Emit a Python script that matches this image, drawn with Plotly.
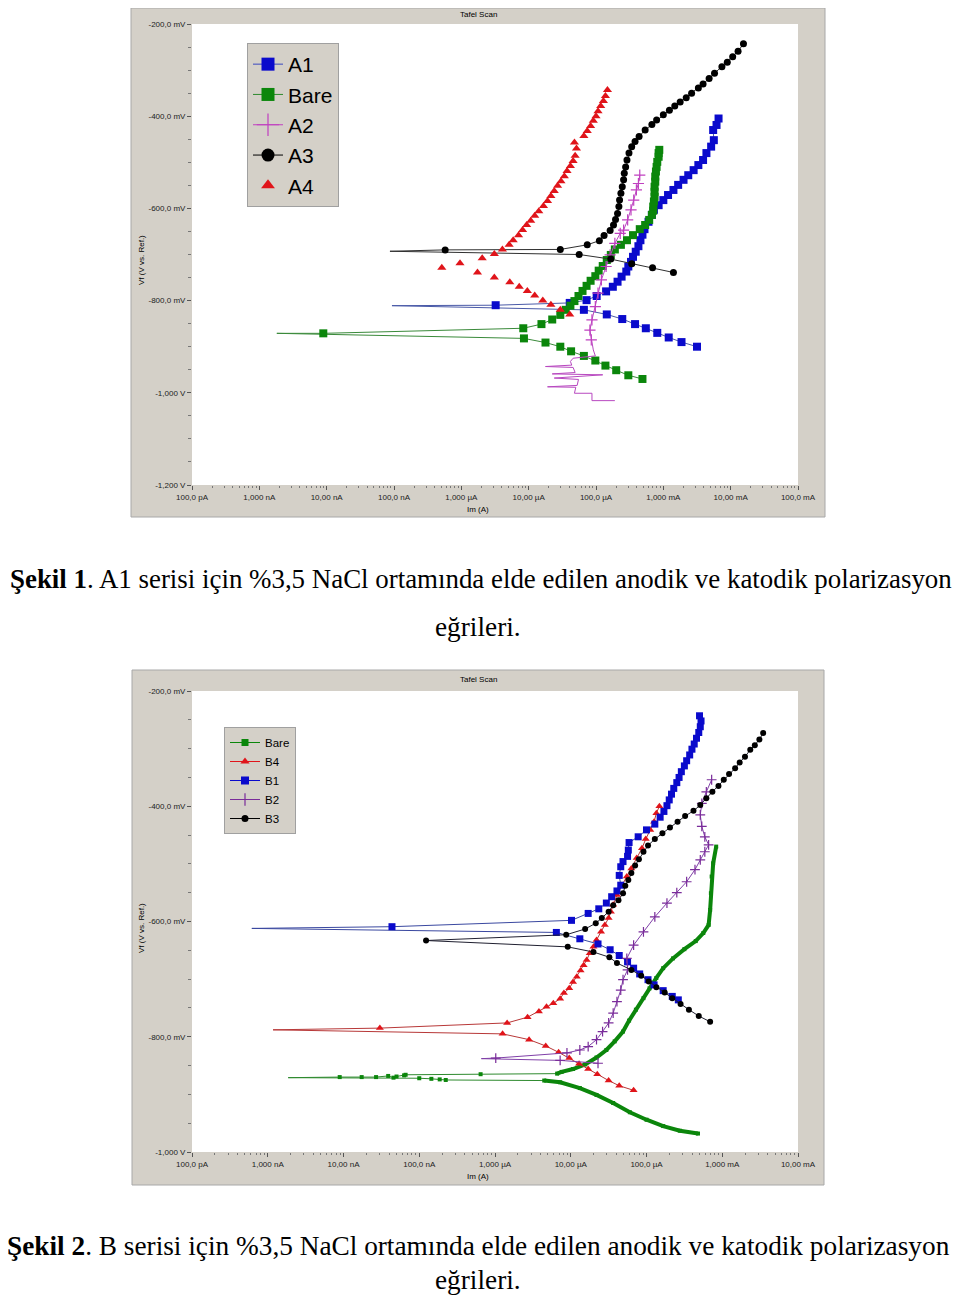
import numpy as np
import plotly.graph_objects as go

# Şekil 1 - A series. Current as log10(I / A), potential in mV, in scan order
a1_logi = [-2.50, -2.73, -2.92, -3.09, -3.26, -3.42, -3.61, -3.84, -4.18, -7.03, -5.49, -4.39,
           -4.14, -3.99, -3.85, -3.75, -3.68, -3.62, -3.55, -3.52, -3.48, -3.45, -3.41, -3.37,
           -3.34, -3.31, -3.28, -3.22, -3.17, -3.14, -3.07, -3.00, -2.93, -2.85, -2.78, -2.70,
           -2.63, -2.55, -2.48, -2.41, -2.36, -2.29, -2.25, -2.26, -2.21, -2.18]
a1_mv = [-900, -890, -880, -870, -860, -851, -840, -830, -820, -811, -810, -805,
         -799, -790, -780, -770, -759, -748, -737, -726, -716, -705, -694, -682,
         -669, -657, -645, -629, -614, -603, -593, -582, -571, -560, -549, -538,
         -528, -517, -506, -495, -480, -466, -452, -430, -419, -405]

bare_a_logi = [-3.31, -3.52, -3.70, -3.86, -4.01, -4.18, -4.37, -4.53, -4.75, -5.07, -8.74, -8.05,
               -5.08, -4.81, -4.65, -4.53, -4.45, -4.38, -4.32, -4.26, -4.20, -4.14, -4.08, -4.01,
               -3.96, -3.90, -3.84, -3.78, -3.72, -3.63, -3.54, -3.45, -3.35, -3.27, -3.21, -3.17,
               -3.15, -3.15, -3.14, -3.13, -3.13, -3.13, -3.12, -3.12, -3.11, -3.10, -3.09, -3.07,
               -3.07, -3.06]
bare_a_mv = [-970, -962, -951, -941, -930, -920, -910, -900, -891, -882, -871, -871,
             -860, -851, -841, -831, -820, -811, -801, -790, -779, -768, -757, -747,
             -735, -725, -712, -701, -689, -679, -669, -658, -645, -636, -625, -614,
             -605, -596, -585, -575, -564, -553, -542, -531, -520, -510, -499, -488,
             -480, -473]

a2_logi = [-3.72, -4.06, -4.06, -4.32, -4.30, -4.72, -4.28, -4.26, -4.62, -4.25, -3.90, -4.65,
           -4.31, -4.34, -4.75, -4.36, -4.38, -4.34, -4.19, -4.01, -4.04, -4.07, -4.09, -4.06,
           -4.01, -3.97, -3.92, -3.85, -3.79, -3.72, -3.64, -3.59, -3.53, -3.48, -3.44, -3.40,
           -3.37, -3.35]
a2_mv = [-1017, -1017, -1001, -1001, -988, -987, -984, -971, -968, -965, -961, -959,
         -956, -945, -943, -940, -932, -925, -922, -920, -907, -885, -864, -842,
         -813, -784, -755, -726, -701, -676, -654, -647, -625, -603, -582, -560,
         -546, -528]

a3_logi = [-2.85, -3.16, -3.47, -3.78, -4.25, -7.06, -6.24, -4.53, -4.13, -3.95, -3.88, -3.79,
           -3.74, -3.71, -3.68, -3.66, -3.65, -3.63, -3.61, -3.59, -3.58, -3.56, -3.54, -3.51,
           -3.47, -3.42, -3.36, -3.27, -3.17, -3.10, -3.00, -2.91, -2.83, -2.75, -2.66, -2.58,
           -2.48, -2.41, -2.32, -2.24, -2.13, -2.05, -1.97, -1.89, -1.81]
a3_mv = [-739, -729, -720, -710, -700, -693, -690, -689, -679, -670, -659, -648,
         -636, -624, -611, -596, -582, -567, -553, -538, -524, -510, -495, -480,
         -466, -455, -444, -430, -418, -408, -397, -387, -378, -369, -360, -350,
         -339, -330, -318, -307, -293, -283, -271, -259, -243]

a4_logi = [-4.39, -4.53, -4.67, -4.79, -4.91, -5.02, -5.14, -5.28, -5.51, -5.76, -6.29, -6.02,
           -5.69, -5.51, -5.39, -5.29, -5.23, -5.15, -5.09, -5.03, -4.97, -4.91, -4.85, -4.78,
           -4.72, -4.67, -4.62, -4.57, -4.52, -4.47, -4.43, -4.38, -4.34, -4.31, -4.29, -4.32,
           -4.18, -4.13, -4.08, -4.04, -4.00, -3.97, -3.93, -3.89, -3.86, -3.83]
a4_mv = [-830, -820, -809, -800, -789, -779, -770, -760, -750, -739, -729, -719,
         -708, -699, -689, -679, -669, -658, -647, -636, -627, -616, -606, -595,
         -584, -573, -562, -551, -541, -530, -519, -508, -497, -486, -470, -457,
         -443, -432, -421, -410, -400, -389, -378, -367, -356, -343]

# Şekil 2 - B series
bare_b_logi = [-3.32, -3.56, -3.78, -4.00, -4.22, -4.44, -4.66, -4.88, -5.14, -5.35, -6.65, -6.73,
               -6.84, -7.00, -8.73, -8.05, -7.76, -7.57, -7.41, -7.34, -7.30, -7.20, -7.18, -6.19,
               -5.18, -5.12, -4.97, -4.81, -4.66, -4.53, -4.42, -4.31, -4.23, -4.14, -4.04, -3.96,
               -3.87, -3.78, -3.65, -3.50, -3.35, -3.25, -3.18, -3.16, -3.15, -3.14, -3.12, -3.08]
bare_b_mv = [-968, -963, -955, -944, -931, -915, -901, -889, -879, -876, -875, -874,
             -873, -872, -871, -870, -870, -870, -868, -871, -869, -867, -866, -865,
             -864, -861, -856, -848, -836, -823, -808, -791, -772, -753, -733, -716,
             -698, -681, -664, -648, -634, -620, -606, -580, -551, -522, -499, -470]

b4_logi = [-4.17, -4.36, -4.50, -4.65, -4.77, -4.89, -5.02, -5.16, -5.33, -5.55, -5.90, -8.93,
           -7.52, -5.84, -5.57, -5.42, -5.32, -5.23, -5.14, -5.09, -5.02, -4.97, -4.92, -4.87,
           -4.83, -4.79, -4.75, -4.70, -4.66, -4.60, -4.55, -4.50, -4.47, -4.44, -4.39, -4.33,
           -4.26, -4.20, -4.13, -4.06, -4.01, -3.95, -3.90, -3.87, -3.83]
b4_mv = [-893, -885, -876, -865, -856, -847, -837, -827, -816, -805, -795, -788,
         -785, -776, -766, -756, -748, -742, -734, -724, -716, -705, -696, -685,
         -676, -667, -655, -644, -632, -618, -606, -594, -583, -571, -554, -539,
         -522, -508, -490, -473, -457, -441, -427, -412, -400]

b1_logi = [-3.58, -3.66, -3.78, -3.90, -3.98, -4.09, -4.17, -4.25, -4.36, -4.48, -4.64, -4.88,
           -5.19, -9.21, -7.36, -4.99, -4.77, -4.63, -4.53, -4.46, -4.39, -4.34, -4.36, -4.34,
           -4.31, -4.25, -4.24, -4.23, -4.11, -4.00, -3.89, -3.82, -3.77, -3.73, -3.70, -3.67,
           -3.64, -3.60, -3.57, -3.54, -3.50, -3.47, -3.43, -3.40, -3.37, -3.34, -3.31, -3.29,
           -3.28, -3.30]
b1_mv = [-736, -730, -720, -710, -701, -691, -681, -670, -659, -649, -639, -630,
         -619, -612, -609, -598, -586, -578, -568, -557, -547, -537, -520, -505,
         -496, -487, -476, -463, -453, -441, -431, -419, -409, -399, -389, -379,
         -369, -359, -350, -340, -330, -321, -311, -301, -292, -282, -272, -262,
         -252, -243]

b2_logi = [-4.64, -5.14, -6.18, -5.99, -5.05, -4.88, -4.77, -4.66, -4.58, -4.50, -4.44, -4.39,
           -4.34, -4.31, -4.25, -4.26, -4.17, -4.04, -3.89, -3.73, -3.60, -3.47, -3.36, -3.29,
           -3.23, -3.18, -3.23, -3.27, -3.29, -3.27, -3.21, -3.14]
b2_mv = [-846, -841, -838, -837, -828, -823, -817, -805, -791, -776, -759, -739,
         -719, -701, -684, -664, -641, -618, -592, -568, -550, -531, -510, -493,
         -479, -467, -453, -435, -415, -395, -375, -354]

b3_logi = [-3.16, -3.31, -3.44, -3.55, -3.66, -3.76, -3.87, -3.97, -4.07, -4.20, -4.39, -4.49,
           -4.70, -5.04, -6.91, -5.06, -4.81, -4.67, -4.59, -4.50, -4.44, -4.37, -4.31, -4.28,
           -4.24, -4.20, -4.15, -4.10, -4.04, -3.98, -3.89, -3.79, -3.69, -3.59, -3.49, -3.38,
           -3.29, -3.21, -3.13, -3.05, -2.98, -2.91, -2.83, -2.77, -2.70, -2.63, -2.57, -2.51,
           -2.46]
b3_mv = [-774, -764, -753, -743, -733, -723, -714, -704, -694, -684, -672, -662,
         -653, -644, -633, -623, -613, -603, -594, -583, -572, -563, -551, -538,
         -528, -516, -503, -492, -479, -468, -457, -447, -437, -427, -417, -408,
         -398, -386, -375, -365, -354, -344, -334, -324, -314, -302, -294, -284,
         -273]

top_xticks = [1e-10, 1e-9, 1e-8, 1e-7, 1e-6, 1e-5, 1e-4, 1e-3, 1e-2, 1e-1]
top_xlabels = ["100,0 pA", "1,000 nA", "10,00 nA", "100,0 nA", "1,000 µA", "10,00 µA",
               "100,0 µA", "1,000 mA", "10,00 mA", "100,0 mA"]
top_yticks = [-200, -400, -600, -800, -1000, -1200]
top_ylabels = ["-200,0 mV", "-400,0 mV", "-600,0 mV", "-800,0 mV", "-1,000 V", "-1,200 V"]
bot_xticks = top_xticks[:9]
bot_xlabels = top_xlabels[:9]
bot_yticks = [-200, -400, -600, -800, -1000]
bot_ylabels = ["-200,0 mV", "-400,0 mV", "-600,0 mV", "-800,0 mV", "-1,000 V"]

BLUE, GREEN, RED, BLACK = "#0a0acc", "#0b860b", "#e0141a", "#000000"
PINK, PURPLE = "#c040c0", "#7a2c9a"

# the page body keeps an 8 px margin, so the figure is 944 x 1292 and page pixels shift by 8
OFF, W, H = 8, 944.0, 1292.0


def fx(px):
    return (px - OFF) / W


def fy(py):
    return 1 - (py - OFF) / H


fig = go.Figure()


def axes(sub):
    return dict(xaxis="x" if sub == 1 else "x2", yaxis="y" if sub == 1 else "y2")


def marker(color, symbol, size):
    return dict(color=color, symbol=symbol, size=size,
                line=dict(color=color, width=1.2 if "cross" in symbol else 0))


def add_curve(logi, mv, sub, color, symbol, size, line_color=None, no_marks=None, width=1.0):
    x = np.power(10.0, np.array(logi))
    y = np.array(mv, dtype=float)
    if line_color:
        fig.add_trace(go.Scatter(x=x, y=y, mode="lines", showlegend=False,
                                 line=dict(color=line_color, width=width), **axes(sub)))
    if no_marks is None:
        no_marks = [int(np.argmin(logi))]  # the spike tip carries no symbol
    keep = np.setdiff1d(np.arange(len(x)), no_marks)
    fig.add_trace(go.Scatter(x=x[keep], y=y[keep], mode="markers", showlegend=False,
                             marker=marker(color, symbol, size), **axes(sub)))


def add_key(name, sub, color, symbol, size, line_color=None):
    fig.add_trace(go.Scatter(x=[None], y=[None], name=name,
                             mode="lines+markers" if line_color else "markers",
                             line=dict(color=line_color or color, width=1),
                             marker=marker(color, symbol, size),
                             legend="legend" if sub == 1 else "legend2", **axes(sub)))


add_curve(a1_logi, a1_mv, 1, BLUE, "square", 8, "#4a5aa8")
add_curve(bare_a_logi, bare_a_mv, 1, GREEN, "square", 8, "#3a8a3a")
add_curve(a2_logi, a2_mv, 1, PINK, "cross-thin", 8, "#b848c0", no_marks=list(range(21)))
add_curve(a3_logi, a3_mv, 1, BLACK, "circle", 7, "#303030")
add_curve(a4_logi, a4_mv, 1, RED, "triangle-up", 8, None, no_marks=[])

add_curve(bare_b_logi, bare_b_mv, 2, GREEN, "square", 4, "#2e8a2e")
for sl in (slice(0, 10), slice(24, None)):  # thick branches of the bare curve
    fig.add_trace(go.Scatter(x=np.power(10.0, np.array(bare_b_logi[sl])), y=bare_b_mv[sl],
                             mode="lines", showlegend=False, line=dict(color=GREEN, width=4),
                             **axes(2)))
add_curve(b4_logi, b4_mv, 2, RED, "triangle-up", 7, "#b83838")
add_curve(b1_logi, b1_mv, 2, BLUE, "square", 7, "#3a48a0")
add_curve(b2_logi, b2_mv, 2, PURPLE, "cross-thin", 7, "#8040a8")
add_curve(b3_logi, b3_mv, 2, BLACK, "circle", 6, "#202030", no_marks=[])

add_key("A1", 1, BLUE, "square", 13, "#3a48c0")
add_key("Bare", 1, GREEN, "square", 13, "#2e8a2e")
add_key("A2", 1, PINK, "cross-thin", 16, PINK)
add_key("A3", 1, BLACK, "circle", 13, BLACK)
add_key("A4", 1, RED, "triangle-up", 12)
add_key("Bare", 2, GREEN, "square", 7, GREEN)
add_key("B4", 2, RED, "triangle-up", 8, RED)
add_key("B1", 2, BLUE, "square", 8, BLUE)
add_key("B2", 2, PURPLE, "cross-thin", 9, PURPLE)
add_key("B3", 2, BLACK, "circle", 7, BLACK)

tick_font = dict(family="Liberation Sans", size=8, color="#222222")


def xaxis(vals, labels, rng, anchor):
    return dict(domain=[fx(192), fx(798)], anchor=anchor, type="log", range=rng,
                tickmode="array", tickvals=vals, ticktext=labels, ticks="outside",
                ticklen=4, tickcolor="#555555", tickfont=tick_font, showgrid=False,
                zeroline=False, showline=False, automargin=False,
                minor=dict(ticks="outside", ticklen=2, tickcolor="#777777", dtick="D1",
                           showgrid=False))


def yaxis(vals, labels, rng, top, bottom, anchor):
    return dict(domain=[fy(bottom), fy(top)], anchor=anchor, range=rng, tickmode="array",
                tickvals=vals, ticktext=labels, ticks="outside", ticklen=4,
                tickcolor="#555555", tickfont=tick_font, showgrid=False, zeroline=False,
                showline=False, automargin=False,
                minor=dict(ticks="outside", ticklen=3, tickcolor="#777777", dtick=50,
                           showgrid=False))


def rect(x0, y0, x1, y1):
    return dict(type="rect", xref="paper", yref="paper", layer="below",
                x0=fx(x0), x1=fx(x1), y0=fy(y1), y1=min(fy(y0), 1),
                fillcolor="#d4d0c8", line=dict(color="#a8a8a8", width=1))


def white(xr, yr):
    return dict(type="rect", xref=xr + " domain", yref=yr + " domain", layer="below",
                x0=0, x1=1, y0=0, y1=1, fillcolor="white", line=dict(width=0))


def note(text, px, py, size=8, family="Liberation Sans", angle=0):
    return dict(text=text, x=fx(px), y=fy(py), xref="paper", yref="paper",
                showarrow=False, textangle=angle, xanchor="center", yanchor="middle",
                font=dict(family=family, size=size, color="black"))


cap = dict(family="Liberation Serif")
annotations = [
    note("Tafel Scan", 478, 14), note("Im (A)", 478, 509),
    note("Vf (V vs. Ref.)", 141, 260, angle=-90),
    note("Tafel Scan", 478, 679), note("Im (A)", 478, 1176),
    note("Vf (V vs. Ref.)", 141, 928, angle=-90),
    note("<b>Şekil 1</b>. A1 serisi için %3,5 NaCl ortamında elde edilen anodik ve katodik "
         "polarizasyon", 481, 579, size=26.9, **cap),
    note("eğrileri.", 478, 627, size=27.3, **cap),
    note("<b>Şekil 2</b>. B serisi için %3,5 NaCl ortamında elde edilen anodik ve katodik "
         "polarizasyon", 478, 1246, size=27.3, **cap),
    note("eğrileri.", 478, 1280, size=27.3, **cap),
]

fig.update_layout(
    width=W, height=H, margin=dict(l=0, r=0, t=0, b=0, autoexpand=False),
    paper_bgcolor="white", plot_bgcolor="white",
    xaxis=xaxis(top_xticks, top_xlabels, [-10, -1], "y"),
    yaxis=yaxis(top_yticks, top_ylabels, [-1200, -200], 24, 485, "x"),
    xaxis2=xaxis(bot_xticks, bot_xlabels, [-10, -2], "y2"),
    yaxis2=yaxis(bot_yticks, bot_ylabels, [-1000, -200], 691, 1152, "x2"),
    shapes=[rect(131, 3, 825, 517), rect(132, 670, 824, 1185),
            white("x", "y"), white("x2", "y2")],
    annotations=annotations,
    legend=dict(x=fx(247), y=fy(43), xanchor="left", yanchor="top",
                bgcolor="#d4d0c8", bordercolor="#a0a0a0", borderwidth=1,
                font=dict(family="Liberation Sans", size=21, color="black"),
                itemwidth=30, itemsizing="trace", tracegroupgap=0),
    legend2=dict(x=fx(224), y=fy(727), xanchor="left", yanchor="top",
                 bgcolor="#d4d0c8", bordercolor="#a0a0a0", borderwidth=1,
                 font=dict(family="Liberation Sans", size=11.5, color="black"),
                 itemwidth=30, itemsizing="trace", tracegroupgap=0),
)

fig.write_html("out.html")
